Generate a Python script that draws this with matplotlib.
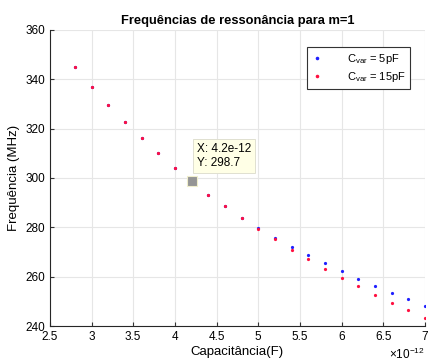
import numpy as np
import matplotlib
matplotlib.use("Agg")
from matplotlib import pyplot as plt
from matplotlib.ticker import FuncFormatter

# capacitance (pF) and resonance frequencies (MHz)
cap_pf = [2.8, 3.0, 3.2, 3.4, 3.6, 3.8, 4.0, 4.2, 4.4, 4.6, 4.8, 5.0,
          5.2, 5.4, 5.6, 5.8, 6.0, 6.2, 6.4, 6.6, 6.8, 7.0]
freq_5pf = [344.9, 337.0, 329.7, 322.7, 316.3, 310.1, 304.2, 298.7, 293.3, 288.8, 283.9, 279.6,
            275.8, 272.1, 268.7, 265.4, 262.2, 259.1, 256.2, 253.5, 250.8, 248.3]
freq_15pf = [344.9, 337.0, 329.7, 322.7, 316.3, 310.1, 304.2, 298.7, 293.3, 288.8, 283.9, 279.4,
             275.1, 271.0, 267.0, 263.2, 259.6, 256.1, 252.7, 249.4, 246.4, 243.3]
labels = [r'C$_{\mathrm{var}}$ = 5pF', r'C$_{\mathrm{var}}$ = 15pF']
tip_x = 4.2
tip_y = 298.7

plt.rcParams['font.family'] = ['Liberation Sans', 'DejaVu Sans']
plt.rcParams['mathtext.fontset'] = 'custom'
plt.rcParams['mathtext.rm'] = 'Liberation Sans'
plt.rcParams['mathtext.it'] = 'Liberation Sans'

fig = plt.figure(figsize=(4.3, 3.64), dpi=100)
ax = fig.add_axes([0.116, 0.104, 0.872, 0.814])

cap = np.array(cap_pf) * 1e-12
ax.plot(cap, freq_5pf, linestyle='none', marker='o', markersize=1.3, color='#2020ff', label=labels[0], zorder=3)
ax.plot(cap, freq_15pf, linestyle='none', marker='o', markersize=1.3, color='#ff1040', label=labels[1], zorder=3)

# data tip
ax.plot([tip_x * 1e-12], [tip_y], marker='s', markersize=6.5, color='#959595',
        markeredgecolor='#f0eecc', markeredgewidth=0.8, linestyle='none', zorder=4)
ax.text(tip_x * 1e-12 + 0.065e-12, tip_y + 4.8, 'X: 4.2e-12\nY: 298.7', fontsize=8.5,
        va='bottom', ha='left', linespacing=1.3, zorder=5,
        bbox=dict(boxstyle='square,pad=0.3', facecolor='#ffffe6', edgecolor='#e0e0d0', linewidth=0.7))

ax.set_xlim(2.5e-12, 7e-12)
ax.set_ylim(240, 360)
ax.set_xticks(np.arange(2.5, 7.01, 0.5) * 1e-12)
ax.set_yticks(np.arange(240, 361, 20))
ax.xaxis.set_major_formatter(FuncFormatter(lambda v, p: '%g' % round(v * 1e12, 3)))
ax.text(1.0, -0.07, r'$\times$10$^{-12}$', transform=ax.transAxes, ha='right', va='top', fontsize=8.5)

ax.grid(True, color='#e6e6e6', linewidth=0.8)
ax.set_axisbelow(True)
ax.tick_params(direction='in', labelsize=8.5, length=3, color='#333333', top=False, right=False)
for side in ['left', 'bottom']:
    ax.spines[side].set_color('#262626')
for side in ['top', 'right']:
    ax.spines[side].set_visible(False)

ax.set_title('Frequências de ressonância para m=1', fontsize=9.3, fontweight='bold', pad=4)
ax.set_xlabel('Capacitância(F)', fontsize=9.5, labelpad=2)
ax.set_ylabel('Frequência (MHz)', fontsize=9.5, labelpad=4)

leg = ax.legend(loc='upper right', bbox_to_anchor=(0.975, 0.96), fontsize=8, markerscale=1.2,
                fancybox=False, framealpha=1, edgecolor='#333333', borderpad=0.4, labelspacing=0.4,
                handletextpad=2.2, handlelength=1.0)
leg.get_frame().set_linewidth(0.8)

fig.savefig('out.png', dpi=100)
